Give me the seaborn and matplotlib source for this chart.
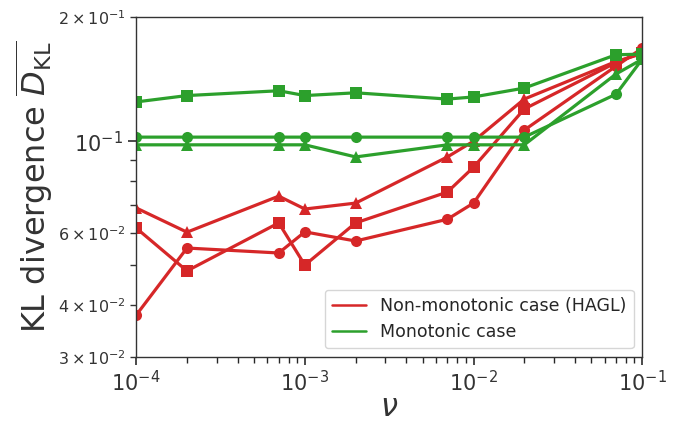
import pandas as pd
import matplotlib
matplotlib.use('Agg')
from matplotlib import pyplot as plt
from matplotlib.lines import Line2D
import seaborn as sns

sns.set_theme(style = 'ticks')

nu = [1e-4, 2e-4, 7e-4, 1e-3, 2e-3, 7e-3, 1e-2, 2e-2, 7e-2, 1e-1]

# non-monotonic case (HAGL)
red_sq = [0.0616, 0.0485, 0.0634, 0.0501, 0.0634, 0.0753, 0.0865, 0.1197, 0.155, 0.164]
red_ci = [0.0379, 0.0551, 0.0536, 0.0603, 0.0573, 0.0647, 0.0708, 0.1064, 0.152, 0.168]
red_tr = [0.0689, 0.0602, 0.0736, 0.0685, 0.0708, 0.0916, 0.1000, 0.1265, 0.156, 0.163]
# monotonic case
green_sq = [0.1245, 0.129, 0.1325, 0.129, 0.131, 0.1265, 0.128, 0.1345, 0.162, 0.1625]
green_ci = [0.1023, 0.1023, 0.1023, 0.1023, 0.1023, 0.1023, 0.1023, 0.1023, 0.130, 0.158]
green_tr = [0.098, 0.098, 0.098, 0.098, 0.0916, 0.098, 0.098, 0.098, 0.1455, 0.158]

series = {
	('Non-monotonic case (HAGL)', 'sq'): red_sq,
	('Non-monotonic case (HAGL)', 'ci'): red_ci,
	('Non-monotonic case (HAGL)', 'tr'): red_tr,
	('Monotonic case', 'sq'): green_sq,
	('Monotonic case', 'ci'): green_ci,
	('Monotonic case', 'tr'): green_tr,
}
rows = []
for (case, mk), vals in series.items():
	for x, y in zip(nu, vals):
		rows.append({'nu': x, 'kl': y, 'case': case, 'mk': mk})
df = pd.DataFrame(rows)

palette = {'Non-monotonic case (HAGL)': '#d62728', 'Monotonic case': '#2ca02c'}

fig = plt.figure(figsize = (6.81, 4.24), dpi = 100)
ax = fig.add_axes([0.2, 0.158, 0.743, 0.802])
sns.lineplot(data = df, x = 'nu', y = 'kl', hue = 'case', style = 'mk',
	markers = {'sq': 's', 'ci': 'o', 'tr': '^'}, dashes = False,
	palette = palette, linewidth = 2.3, markersize = 8, markeredgewidth = 0,
	legend = False, ax = ax)

ax.set_xscale('log')
ax.set_yscale('log')
ax.set_xlim(1e-4, 1e-1)
ax.set_ylim(3e-2, 2e-1)
for s in ax.spines.values():
	s.set_color('#333333')
	s.set_linewidth(1.0)
ax.tick_params(axis = 'both', which = 'major', labelsize = 15, colors = '#333333')
ax.tick_params(axis = 'y', which = 'minor', labelsize = 11.5, colors = '#333333')
ax.tick_params(axis = 'x', which = 'minor', labelbottom = False)
ax.set_xlabel(r'$\nu$', fontsize = 22, color = '#333333', labelpad = -2)
ax.set_ylabel(r'KL divergence $\overline{D_{\rm KL}}$', fontsize = 23, color = '#333333', labelpad = 2)

handles = [Line2D([0], [0], color = '#d62728', lw = 1.8),
	Line2D([0], [0], color = '#2ca02c', lw = 1.8)]
ax.legend(handles, ['Non-monotonic case (HAGL)', 'Monotonic case'],
	loc = 'lower right', fontsize = 12.5, frameon = True)

plt.savefig('out.png', dpi = 100)
